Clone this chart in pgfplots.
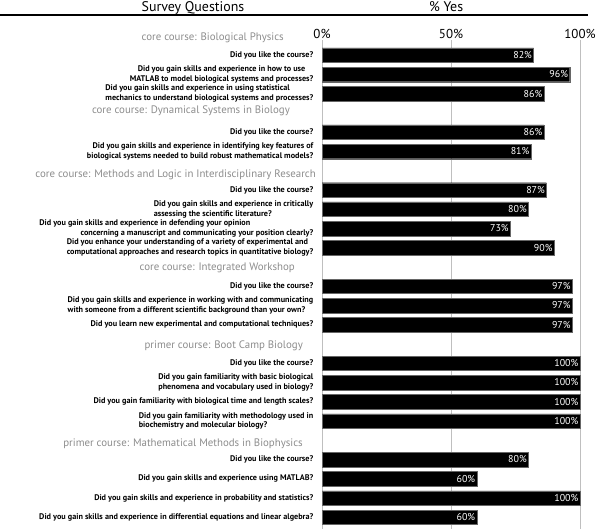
\documentclass[border=0pt]{standalone}
\usepackage{fontspec}
\setmainfont{PT Sans}
\usepackage{pgfplots}
\pgfplotsset{compat=1.18}
\definecolor{hdrgray}{gray}{0.55}
% two-line question label, #1 = column alignment
\newcommand{\ql}[3]{\begin{tabular}{@{}#1@{}}#2\\#3\end{tabular}}
\newcommand{\hdr}[3]{\node[anchor=east,text=hdrgray,inner sep=0pt,
    font=\fontsize{10.9}{13}\selectfont] at (axis cs:#1,#2) {#3};}
\begin{document}
\begin{tikzpicture}
\begin{axis}[
  x=2.58bp, y=19.25bp,
  y dir=reverse,
  xmin=0, xmax=100, ymin=0.21, ymax=25.61,
  xbar, bar width=14.5bp,
  axis line style={draw=none},
  major tick length=0pt,
  xtick={0,50,100},
  xticklabels={0\%,50\%,100\%},
  xticklabel pos=upper,
  xticklabel style={font=\fontsize{13}{15}\selectfont,inner sep=0pt,yshift=1bp},
  xmajorgrids,
  grid style={black!25,line width=0.6pt},
  ytick={1,2,3,5,6,8,9,10,11,13,14,15,17,18,19,20,22,23,24,25},
  yticklabels={
    {Did you like the course?},
    {\ql{c}{Did you gain skills and experience in how to use}{MATLAB to model biological systems and processes?}},
    {\ql{l}{Did you gain skills and experience in using statistical}{mechanics to understand biological systems and processes?}},
    {Did you like the course?},
    {\ql{r}{Did you gain skills and experience in identifying key features of}{biological systems needed to build robust mathematical models?}},
    {Did you like the course?},
    {\ql{l}{Did you gain skills and experience in critically}{assessing the scientific literature?}},
    {\ql{r}{Did you gain skills and experience in defending your opinion\kern63bp}{concerning a manuscript and communicating your position clearly?}},
    {\ql{l}{Did you enhance your understanding of a variety of experimental and}{computational approaches and research topics in quantitative biology?}},
    {Did you like the course?},
    {\ql{l}{Did you gain skills and experience in working with and communicating}{with someone from a different scientific background than your own?}},
    {Did you learn new experimental and computational techniques?},
    {Did you like the course?},
    {\ql{r}{Did you gain familiarity with basic biological}{phenomena and vocabulary used in biology?}},
    {Did you gain familiarity with biological time and length scales?},
    {\ql{l}{Did you gain familiarity with methodology used in}{biochemistry and molecular biology?}},
    {Did you like the course?},
    {Did you gain skills and experience using MATLAB?},
    {Did you gain skills and experience in probability and statistics?},
    {Did you gain skills and experience in differential equations and linear algebra?},
  },
  yticklabel style={font=\fontsize{8.2}{10}\selectfont\bfseries,inner sep=0pt,xshift=-8.5bp},
  point meta=x,
  nodes near coords={\pgfmathprintnumber[assume math mode=true]{\pgfplotspointmeta}\%},
  every node near coord/.append style={anchor=east,text=white,
    font=\fontsize{10}{12}\selectfont,inner xsep=1.5bp,inner ysep=0pt},
  clip=false,
]
\addplot[fill=black,draw=black!60,line width=0.3pt] coordinates {
  (82,1) (96,2) (86,3)
  (86,5) (81,6)
  (87,8) (80,9) (73,10) (90,11)
  (97,13) (97,14) (97,15)
  (100,17) (100,18) (100,19) (100,20)
  (80,22) (60,23) (100,24) (60,25)};

\hdr{-14.73}{0.1}{core course: Biological Physics}
\hdr{-12.40}{3.9}{core course: Dynamical Systems in Biology}
\hdr{-2.33}{7.2}{core course: Methods and Logic in Interdisciplinary Research}
\hdr{-10.47}{12.05}{core course: Integrated Workshop}
\hdr{-7.36}{16.1}{primer course: Boot Camp Biology}
\hdr{-7.36}{21.2}{primer course: Mathematical Methods in Biophysics}

\draw[line width=1.3bp] (axis cs:-124.81,-1.09) -- (axis cs:103.1,-1.09);
\node[anchor=base,inner sep=0pt,font=\fontsize{14}{17}\selectfont]
  at (axis cs:-50,-1.27) {Survey Questions};
\node[anchor=base,inner sep=0pt,font=\fontsize{14}{17}\selectfont]
  at (axis cs:48.1,-1.27) {\% Yes};

\coordinate (bbsw) at (axis cs:-124.81,25.61);
\coordinate (bbne) at (axis cs:107.75,-1.87);
\end{axis}
\pgfresetboundingbox
\path[use as bounding box] (bbsw) rectangle (bbne);
\end{tikzpicture}
\end{document}
